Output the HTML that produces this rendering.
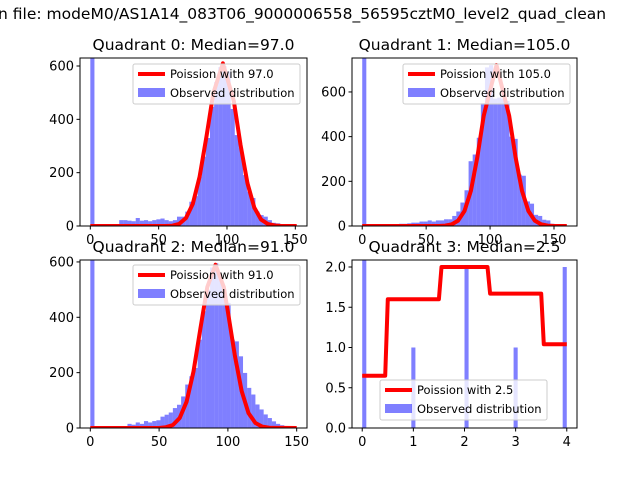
<!DOCTYPE html>
<html><head><meta charset="utf-8"><style>
body{margin:0;background:#fff;}
svg{display:block;font-family:"DejaVu Sans","Liberation Sans",sans-serif;}
</style></head><body>
<svg id="fig" width="640" height="480" viewBox="0 0 640 480" xmlns="http://www.w3.org/2000/svg">
<text x="-2" y="19" font-size="15.5">n file: modeM0/AS1A14_083T06_9000006558_56595cztM0_level2_quad_clean</text>
</svg>
<script>
// ---- data ----
const q0Max = 151;
const q0Counts = [700,0,0,0,0,0,0,22,22,20,18,30,20,22,18,22,25,28,22,18,22,35,35,54,91,112,185,260,330,447,540,596,600,580,439,341,292,191,129,105,54,41,35,22,12,10,6,4,3,2];
const q0CurveX = [0,55,60,65,70,75,80,85,90,97,105,110,115,120,125,130,135,140,151];
const q0CurveY = [0,0,1,8,30,83,185,336,498,610,469,303,160,69,24,7,2,0,0];
const q1Max = 160;
const q1Counts = [800,0,0,0,0,0,0,5,8,10,10,12,15,15,20,20,25,20,25,25,30,30,45,65,105,160,290,320,395,550,710,720,570,575,570,560,400,390,230,225,110,100,50,45,28,25,10,6,3,2];
const q1CurveX = [0,60,65,70,75,80,85,90,95,105,115,120,125,130,135,140,145,150,160];
const q1CurveY = [0,0,2,7,24,67,157,307,493,720,493,307,157,67,24,7,2,0,0];
const q2Max = 150;
const q2Counts = [700,0,0,0,0,0,0,0,0,15,12,20,15,25,20,25,28,41,48,56,72,84,114,157,187,217,319,422,500,580,595,540,500,452,319,313,259,199,145,121,85,67,49,36,24,15,10,6,3,2];
const q2CurveX = [0,50,55,60,65,70,75,80,85,91,97,100,105,110,115,120,125,130,150];
const q2CurveY = [0,0,3,11,36,95,204,359,509,590,509,420,263,133,54,18,5,1,0];
const q3Max = 4;
const q3Counts = [3,0,0,0,0,0,0,0,0,0,0,0,1,0,0,0,0,0,0,0,0,0,0,0,0,2,0,0,0,0,0,0,0,0,0,0,0,1,0,0,0,0,0,0,0,0,0,0,0,2];
const q3CurveX = [0,0.45,0.5,1.5,1.55,2.45,2.5,3.5,3.55,4];
const q3CurveY = [0.65,0.65,1.6,1.6,2.0,2.0,1.67,1.67,1.04,1.04];
const yTicksBig = [0,200,400,600];
const xTicksBig = [0,50,100,150];
const q3YTicks = [0,0.5,1.0,1.5,2.0];
const q3YLabels = ["0.0","0.5","1.0","1.5","2.0"];
const q3XTicks = [0,1,2,3,4];
const titles = ["Quadrant 0: Median=97.0","Quadrant 1: Median=105.0","Quadrant 2: Median=91.0","Quadrant 3: Median=2.5"];
const legendLabels = ["Poission with 97.0","Poission with 105.0","Poission with 91.0","Poission with 2.5"];

const NS = "http://www.w3.org/2000/svg";
const svg = document.getElementById('fig');
function mk(tag, attrs, parent){
  const e = document.createElementNS(NS, tag);
  for (const k in attrs) e.setAttribute(k, attrs[k]);
  (parent||svg).appendChild(e);
  return e;
}
const quads = [
  {L:80,T:58,W:227,H:168,max:q0Max,counts:q0Counts,cx:q0CurveX,cy:q0CurveY,ymax:630,yt:yTicksBig,yl:yTicksBig.map(String),xt:xTicksBig,leg:[133,64]},
  {L:352,T:58,W:225,H:168,max:q1Max,counts:q1Counts,cx:q1CurveX,cy:q1CurveY,ymax:752,yt:yTicksBig,yl:yTicksBig.map(String),xt:xTicksBig,leg:[403,64]},
  {L:80,T:260,W:227,H:168,max:q2Max,counts:q2Counts,cx:q2CurveX,cy:q2CurveY,ymax:607,yt:yTicksBig,yl:yTicksBig.map(String),xt:xTicksBig,leg:[133,265]},
  {L:352,T:260,W:225,H:168,max:q3Max,counts:q3Counts,cx:q3CurveX,cy:q3CurveY,ymax:2.087,yt:q3YTicks,yl:q3YLabels,xt:q3XTicks,leg:[380,380]}
];
quads.forEach((q,qi)=>{
  const g = mk('g',{});
  
  
  const xmin = -0.05*q.max, xmax = 1.05*q.max;
  const X = v => q.L + (v - xmin)/(xmax - xmin)*q.W;
  const Y = v => q.T + q.H - v/q.ymax*q.H;
  const clip = mk('clipPath',{id:'clip'+qi}, g);
  mk('rect',{x:q.L,y:q.T,width:q.W,height:q.H}, clip);
  const plot = mk('g',{'clip-path':'url(#clip'+qi+')'}, g);
  const bw = q.max/q.counts.length;
  q.counts.forEach((c,i)=>{
    if (c<=0) return;
    const x0 = X(i*bw), x1 = X((i+1)*bw);
    const r = mk('rect',{x:x0,y:Y(c),width:x1-x0,height:Y(0)-Y(c),fill:'#0000ff','fill-opacity':0.5}, plot);
    
    
  });
  const pts = q.cx.map((x,i)=>X(x).toFixed(1)+','+Y(q.cy[i]).toFixed(1)).join(' ');
  const line = mk('polyline',{points:pts,fill:'none',stroke:'#ff0000','stroke-width':4,'stroke-linejoin':'round'}, plot);
  
  
  mk('rect',{x:q.L,y:q.T,width:q.W,height:q.H,fill:'none',stroke:'#000','stroke-width':1}, g);
  q.yt.forEach((v,i)=>{
    const y = Y(v);
    mk('line',{x1:q.L-3.5,x2:q.L,y1:y,y2:y,stroke:'#000'}, g);
    const t = mk('text',{x:q.L-6,y:y+4.5,'font-size':13,'text-anchor':'end'}, g);
    t.textContent = q.yl[i];
    
    
  });
  q.xt.forEach(v=>{
    const x = X(v);
    mk('line',{x1:x,x2:x,y1:q.T+q.H,y2:q.T+q.H+3.5,stroke:'#000'}, g);
    const t = mk('text',{x:x,y:q.T+q.H+18,'font-size':13,'text-anchor':'middle'}, g);
    t.textContent = String(v);
    
    
  });
  const tt = mk('text',{x:q.L+q.W/2,y:q.T-8,'font-size':15.5,'text-anchor':'middle'}, g);
  tt.textContent = titles[qi];
  
  
  const lg = mk('g',{}, g);
  
  
  const lx = q.leg[0], ly = q.leg[1];
  mk('rect',{x:lx,y:ly,width:167,height:40,rx:2,fill:'#fff','fill-opacity':0.8,stroke:'#ccc','stroke-width':1}, lg);
  mk('line',{x1:lx+5,x2:lx+32,y1:ly+10,y2:ly+10,stroke:'#ff0000','stroke-width':4}, lg);
  const t1 = mk('text',{x:lx+37,y:ly+14,'font-size':11.5}, lg);
  t1.textContent = legendLabels[qi];
  
  
  mk('rect',{x:lx+5,y:ly+24,width:27,height:9,fill:'#0000ff','fill-opacity':0.5}, lg);
  const t2 = mk('text',{x:lx+37,y:ly+33,'font-size':11.5}, lg);
  t2.textContent = 'Observed distribution';
  
  
});
</script>
</body></html>
